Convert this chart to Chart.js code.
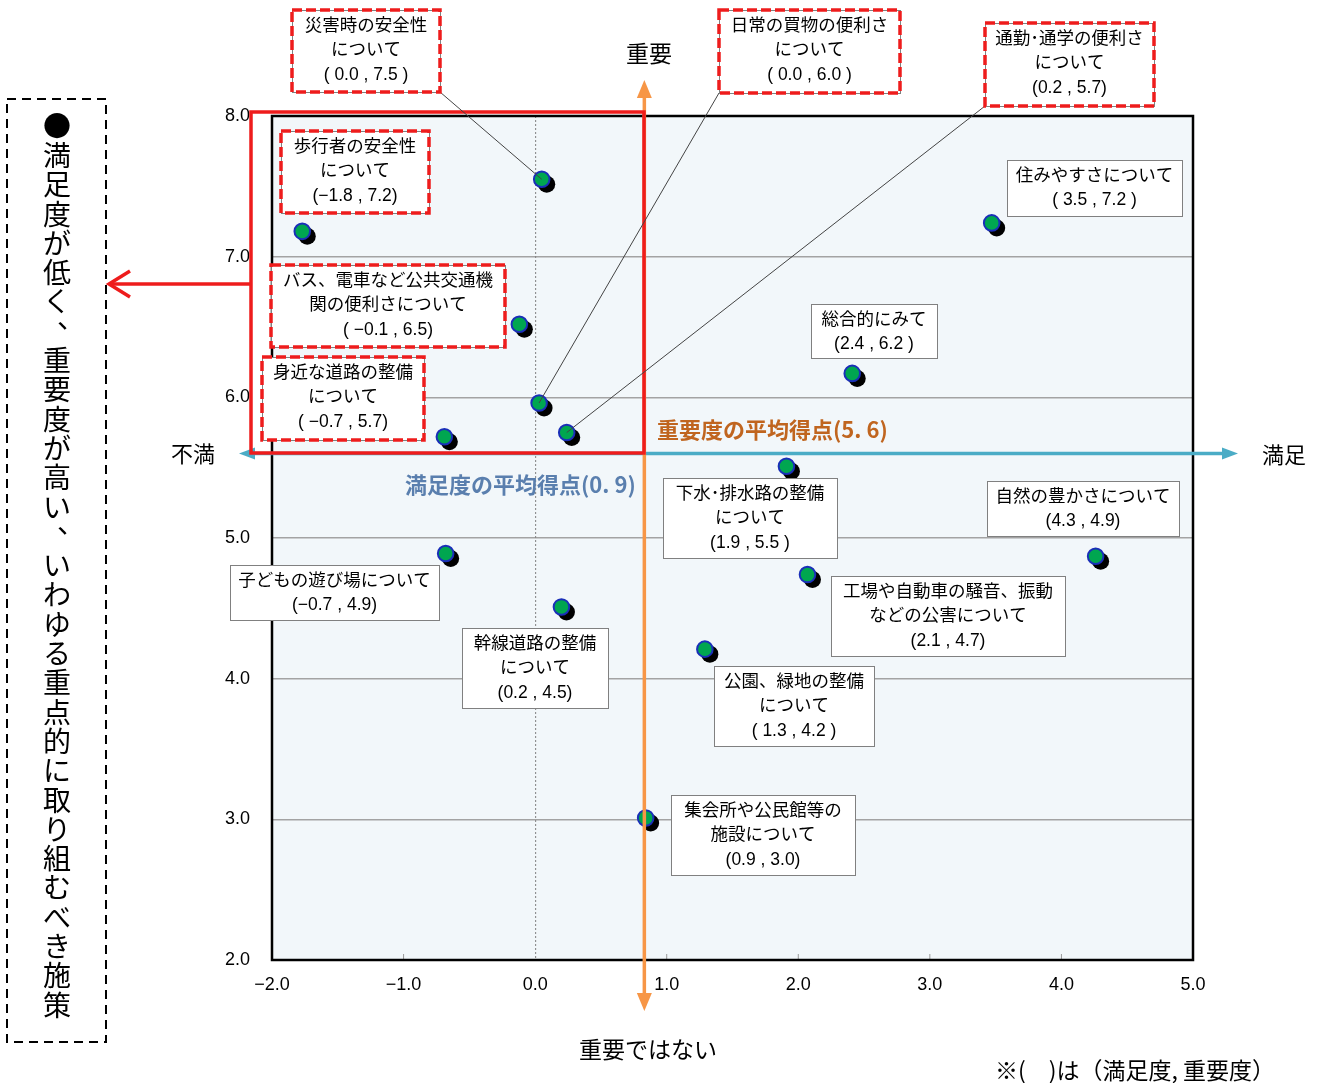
<!DOCTYPE html>
<html><head><meta charset="utf-8">
<script src="https://cdn.jsdelivr.net/npm/chart.js@4.4.0/dist/chart.umd.min.js"></script>
<style>html,body{margin:0;padding:0;background:#fff;}#wrap{width:1321px;height:1083px;}</style>
</head><body><div id="wrap"><canvas id="c" width="1321" height="1083"></canvas></div>
<script>
// ---- data ----
const items = ['災害時の安全性について','歩行者の安全性について','住みやすさについて','バス、電車など公共交通機関の便利さについて','総合的にみて','日常の買物の便利さについて','通勤・通学の便利さについて','身近な道路の整備について','下水・排水路の整備について','子どもの遊び場について','自然の豊かさについて','工場や自動車の騒音、振動などの公害について','幹線道路の整備について','公園、緑地の整備について','集会所や公民館等の施設について'];
const satisfaction = [0.05, -1.77, 3.47, -0.12, 2.41, 0.03, 0.24, -0.69, 1.91, -0.68, 4.26, 2.07, 0.20, 1.29, 0.84];
const importance   = [7.55, 7.18, 7.24, 6.52, 6.17, 5.96, 5.75, 5.72, 5.51, 4.89, 4.87, 4.74, 4.51, 4.21, 3.01];
const labelLines = [
  ['災害時の安全性','について','( 0.0 , 7.5 )'],
  ['歩行者の安全性','について','(−1.8 , 7.2)'],
  ['住みやすさについて','( 3.5 , 7.2 )'],
  ['バス、電車など公共交通機','関の便利さについて','( −0.1 , 6.5)'],
  ['総合的にみて','(2.4 , 6.2 )'],
  ['日常の買物の便利さ','について','( 0.0 , 6.0 )'],
  ['通勤･通学の便利さ','について','(0.2 , 5.7)'],
  ['身近な道路の整備','について','( −0.7 , 5.7)'],
  ['下水･排水路の整備','について','(1.9 , 5.5 )'],
  ['子どもの遊び場について','(−0.7 , 4.9)'],
  ['自然の豊かさについて','(4.3 , 4.9)'],
  ['工場や自動車の騒音、振動','などの公害について','(2.1 , 4.7)'],
  ['幹線道路の整備','について','(0.2 , 4.5)'],
  ['公園、緑地の整備','について','( 1.3 , 4.2 )'],
  ['集会所や公民館等の','施設について','(0.9 , 3.0)']
];
const priorityItems = [0, 1, 3, 5, 6, 7];   // red dashed boxes
const avgSatisfaction = 0.83;
const avgImportance = 5.6;
const avgSatLabel = '満足度の平均得点(0. 9)';
const avgImpLabel = '重要度の平均得点(5. 6)';
const xTickValues = [-2, -1, 0, 1, 2, 3, 4, 5];
const yTickValues = [2, 3, 4, 5, 6, 7, 8];
const verticalNote = '●満足度が低く、重要度が高い、いわゆる重点的に取り組むべき施策';

// ---- layout (pixels) ----
const boxLayout = [
  [292,10,148,82],[281,131,148,82],[1007,160,175,56],[271,265,234,82],[811,304,126,54],
  [719,10,181,83],[985,23,169,83],[262,357,162,83],[663,478,174,80],[230,565,209,55],
  [987,481,192,55],[831,576,234,80],[462,628,146,80],[714,666,160,80],[671,795,184,80]
];
const leaders = {0:'br', 5:'bl', 6:'bl'};

const JP = '"Noto Sans CJK JP", sans-serif';
const NUM = '"Liberation Sans", "Noto Sans CJK JP", sans-serif';

function fmt(v){ return v.toFixed(1).replace('-', '−'); }

function arrowHead(ctx, x, y, dir, len, half, color){
  ctx.fillStyle = color; ctx.beginPath();
  if (dir==='up'){ ctx.moveTo(x,y); ctx.lineTo(x-half,y+len); ctx.lineTo(x+half,y+len); }
  if (dir==='down'){ ctx.moveTo(x,y); ctx.lineTo(x-half,y-len); ctx.lineTo(x+half,y-len); }
  if (dir==='left'){ ctx.moveTo(x,y); ctx.lineTo(x+len,y-half); ctx.lineTo(x+len,y+half); }
  if (dir==='right'){ ctx.moveTo(x,y); ctx.lineTo(x-len,y-half); ctx.lineTo(x-len,y+half); }
  ctx.closePath(); ctx.fill();
}

const overlay = {
  id: 'overlay',
  beforeDraw(chart){
    const {ctx, chartArea:a} = chart;
    ctx.save(); ctx.fillStyle = '#f2f7fa';
    ctx.fillRect(a.left, a.top, a.right-a.left, a.bottom-a.top); ctx.restore();
  },
  beforeDatasetsDraw(chart){
    const {ctx, chartArea:a, scales:{x}} = chart;
    ctx.save();
    const x0 = x.getPixelForValue(0);
    ctx.strokeStyle = '#808080'; ctx.lineWidth = 1; ctx.setLineDash([2,2]);
    ctx.beginPath(); ctx.moveTo(x0+0.5, a.top); ctx.lineTo(x0+0.5, a.bottom); ctx.stroke();
    ctx.setLineDash([]); ctx.strokeStyle = '#9a9a9a';
    xTickValues.forEach(v => { if (v===-2||v===5||v===0) return; const px = x.getPixelForValue(v);
      ctx.beginPath(); ctx.moveTo(px, a.bottom); ctx.lineTo(px, a.bottom-6); ctx.stroke(); });
    // point shadows
    ctx.fillStyle = '#000';
    chart.getDatasetMeta(0).data.forEach(p => {
      ctx.beginPath(); ctx.arc(p.x + 5, p.y + 5, 8.5, 0, Math.PI*2); ctx.fill();
    });
    ctx.restore();
  },
  afterDatasetsDraw(chart){
    const {ctx, chartArea:a, scales:{x, y}} = chart;
    ctx.save();
    // plot border
    ctx.strokeStyle = '#000'; ctx.lineWidth = 2.5;
    ctx.strokeRect(a.left, a.top, a.right-a.left, a.bottom-a.top);
    // average importance (horizontal, blue)
    const ay = y.getPixelForValue(avgImportance);
    ctx.strokeStyle = '#4bacc6'; ctx.lineWidth = 3.5;
    ctx.beginPath(); ctx.moveTo(250, ay); ctx.lineTo(1222, ay); ctx.stroke();
    arrowHead(ctx, 239, ay, 'left', 16, 6, '#4bacc6');
    arrowHead(ctx, 1238, ay, 'right', 16, 6, '#4bacc6');
    // average satisfaction (vertical, orange)
    const ax = x.getPixelForValue(avgSatisfaction);
    ctx.strokeStyle = '#f79646'; ctx.lineWidth = 3.5;
    ctx.beginPath(); ctx.moveTo(ax, 96); ctx.lineTo(ax, 994); ctx.stroke();
    arrowHead(ctx, ax, 80, 'up', 18, 7.5, '#f79646');
    arrowHead(ctx, ax, 1011, 'down', 18, 7.5, '#f79646');
    // red priority rectangle
    ctx.strokeStyle = '#ee1c1c'; ctx.lineWidth = 3.5;
    ctx.strokeRect(251, 112, 393, 341);
    ctx.beginPath(); ctx.moveTo(251, 284); ctx.lineTo(109, 284); ctx.stroke();
    ctx.beginPath(); ctx.moveTo(130, 271); ctx.lineTo(109, 284); ctx.lineTo(130, 297); ctx.stroke();
    // vertical note box
    ctx.strokeStyle = '#000'; ctx.lineWidth = 2; ctx.setLineDash([9,6]);
    ctx.strokeRect(7, 99, 99, 943); ctx.setLineDash([]);
    ctx.fillStyle = '#000'; ctx.font = '28px ' + JP; ctx.textAlign = 'center'; ctx.textBaseline = 'middle';
    [...verticalNote].forEach((ch, i) => {
      const cy = 126 + i*29.3;
      if (ch === '、') ctx.fillText(ch, 57+14, cy-14); else ctx.fillText(ch, 57, cy);
    });
    // leader lines
    const meta = chart.getDatasetMeta(0);
    ctx.strokeStyle = '#444'; ctx.lineWidth = 1;
    Object.keys(leaders).forEach(k => {
      const i = +k, b = boxLayout[i], pt = meta.data[i];
      const sx = leaders[k]==='br' ? b[0]+b[2] : b[0], sy = b[1]+b[3];
      ctx.beginPath(); ctx.moveTo(sx, sy); ctx.lineTo(pt.x, pt.y); ctx.stroke();
    });
    // label boxes
    boxLayout.forEach((b, i) => {
      const [l, t, w, h] = b;
      ctx.fillStyle = '#fff'; ctx.fillRect(l, t, w, h);
      ctx.strokeStyle = '#808080'; ctx.lineWidth = 1; ctx.strokeRect(l+0.5, t+0.5, w, h);
      if (priorityItems.includes(i)) {
        ctx.strokeStyle = '#ee1c1c'; ctx.lineWidth = 3.5; ctx.setLineDash([10,4]);
        ctx.strokeRect(l, t, w, h); ctx.setLineDash([]);
      }
      ctx.fillStyle = '#000'; ctx.font = '17.5px ' + NUM; ctx.textAlign = 'center'; ctx.textBaseline = 'middle';
      labelLines[i].forEach((s, j) => ctx.fillText(s, l + w/2, t + 16 + j*24.5));
    });
    // average labels
    ctx.font = 'bold 22px ' + JP; ctx.textAlign = 'left';
    ctx.fillStyle = '#c0651f'; ctx.fillText(avgImpLabel, 657, 430);
    ctx.fillStyle = '#5a7fae'; ctx.fillText(avgSatLabel, 405, 485);
    // axis meaning labels
    ctx.fillStyle = '#000'; ctx.font = '23px ' + JP; ctx.textAlign = 'center';
    ctx.fillText('重要', 649, 53);
    ctx.fillText('重要ではない', 648, 1049);
    ctx.font = '22px ' + JP;
    ctx.fillText('不満', 193, 454);
    ctx.fillText('満足', 1284, 455);
    ctx.font = '23px ' + JP; ctx.textAlign = 'left';
    ctx.fillText('※(　)は（満足度, 重要度）', 995, 1070);
    ctx.restore();
  }
};

new Chart(document.getElementById('c'), {
  type: 'scatter',
  data: { datasets: [{
    label: '施策',
    data: satisfaction.map((v, i) => ({x: v, y: importance[i], name: items[i]})),
    pointRadius: 7.8, pointHoverRadius: 7.8, pointBorderWidth: 2,
    backgroundColor: '#00a650', borderColor: '#1a2fb8'
  }]},
  options: {
    responsive: false, animation: false, events: [],
    layout: { padding: { top: 116, right: 128, left: 0, bottom: 0 } },
    plugins: { legend: { display: false }, tooltip: { enabled: false } },
    scales: {
      x: {
        type: 'linear', min: -2, max: 5,
        afterBuildTicks: s => { s.ticks = xTickValues.map(v => ({value: v})); },
        afterFit: s => { s.height = 123; },
        grid: { display: false }, border: { display: false },
        ticks: { color: '#000', font: { size: 18, family: NUM }, padding: 6, callback: v => fmt(v) }
      },
      y: {
        type: 'linear', min: 2, max: 8,
        afterBuildTicks: s => { s.ticks = yTickValues.map(v => ({value: v})); },
        afterFit: s => { s.width = 272; },
        grid: { drawTicks: false, lineWidth: 1.5, color: c => (c.tick && (c.tick.value === 2 || c.tick.value === 8)) ? 'rgba(0,0,0,0)' : '#a3a3a3' },
        border: { display: false },
        ticks: { color: '#000', font: { size: 18, family: NUM }, padding: 22, callback: v => fmt(v) }
      }
    }
  },
  plugins: [overlay]
});
</script></body></html>
